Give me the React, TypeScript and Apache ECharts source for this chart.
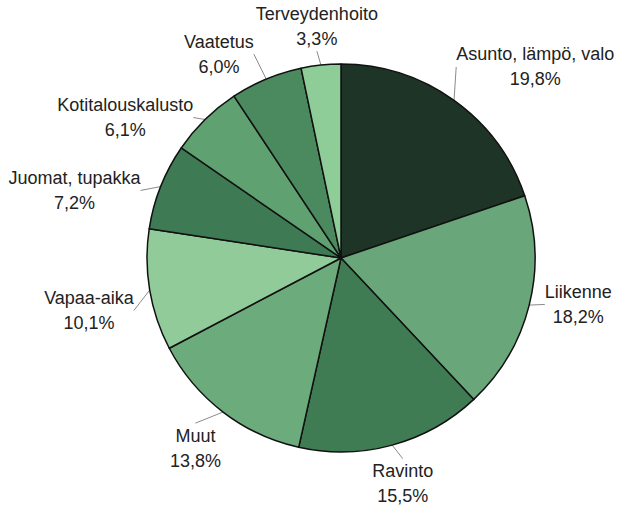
import React, { useEffect, useRef } from "react";
import * as echarts from "echarts";

const categories = [
  "Asunto, lämpö, valo",
  "Liikenne",
  "Ravinto",
  "Muut",
  "Vapaa-aika",
  "Juomat, tupakka",
  "Kotitalouskalusto",
  "Vaatetus",
  "Terveydenhoito",
];
const values = [19.8, 18.2, 15.5, 13.8, 10.1, 7.2, 6.1, 6.0, 3.3];
const colors = [
  "#1d3427",
  "#69a679",
  "#3f7b53",
  "#6cab7c",
  "#90cb99",
  "#3e7b54",
  "#60a171",
  "#4a8a5e",
  "#8ecc98",
];

// label placement: "side" = text block beside the leader line end, "radial" = pushed outward
const placement = ["side", "side", "radial", "radial", "side", "side", "side", "side", "radial"];
const sideXOffset = [-8, 0, 0, 0, 0, -5, 0, -5, 0];
const sideYOffset = [-22, -4, 0, 0, 18, 9, 8, -12, 0];

const CX = 341;
const CY = 258;
const R = 194;
const GAP = 14;

export default function App() {
  const ref = useRef<HTMLDivElement>(null);
  useEffect(() => {
    if (!ref.current) return;
    const chart = echarts.init(ref.current, undefined, { renderer: "svg" });
    const total = values.reduce((a, b) => a + b, 0);
    const mids: number[] = [];
    let acc = 0;
    values.forEach((v) => {
      mids.push(((acc + v / 2) / total) * Math.PI * 2);
      acc += v;
    });
    chart.setOption({
      animation: false,
      backgroundColor: "#ffffff",
      series: [
        {
          type: "pie",
          center: [CX, CY],
          radius: [0, R],
          startAngle: 90,
          clockwise: true,
          silent: true,
          avoidLabelOverlap: false,
          bleedMargin: -300,
          data: categories.map((name, i) => ({
            name,
            value: values[i],
            itemStyle: { color: colors[i] },
          })),
          itemStyle: { borderColor: "#111", borderWidth: 1.5 },
          label: {
            show: true,
            position: "outside",
            alignTo: "none",
            overflow: "none",
            fontFamily: "Liberation Sans, Arial, sans-serif",
            fontSize: 18,
            lineHeight: 25,
            color: "#222",
            formatter: (p: any) =>
              p.name + "\n" + p.value.toFixed(1).replace(".", ",") + "%",
          },
          labelLine: {
            show: true,
            length: GAP,
            length2: 0,
            lineStyle: { color: "#8a8a8a", width: 1 },
          },
          labelLayout: (params: any) => {
            const i = params.dataIndex;
            const a = mids[i];
            const dx = Math.sin(a);
            const dy = -Math.cos(a);
            const ax = CX + (R + GAP) * dx;
            const ay = CY + (R + GAP) * dy;
            const w = params.labelRect.width;
            const h = params.labelRect.height;
            if (placement[i] === "side") {
              return {
                x: ax + (dx >= 0 ? 1 : -1) * (w / 2 + 2) + sideXOffset[i],
                y: ay + sideYOffset[i],
                align: "center",
                verticalAlign: "middle",
              };
            }
            const tx = Math.abs(dx) > 1e-6 ? w / 2 / Math.abs(dx) : Infinity;
            const ty = Math.abs(dy) > 1e-6 ? h / 2 / Math.abs(dy) : Infinity;
            const t = Math.min(tx, ty);
            return {
              x: ax + t * dx,
              y: ay + t * dy,
              align: "center",
              verticalAlign: "middle",
            };
          },
        },
      ],
    });
    return () => chart.dispose();
  }, []);
  return (
    <div
      ref={ref}
      style={{ position: "fixed", left: 0, top: 0, width: 620, height: 505 }}
    />
  );
}
